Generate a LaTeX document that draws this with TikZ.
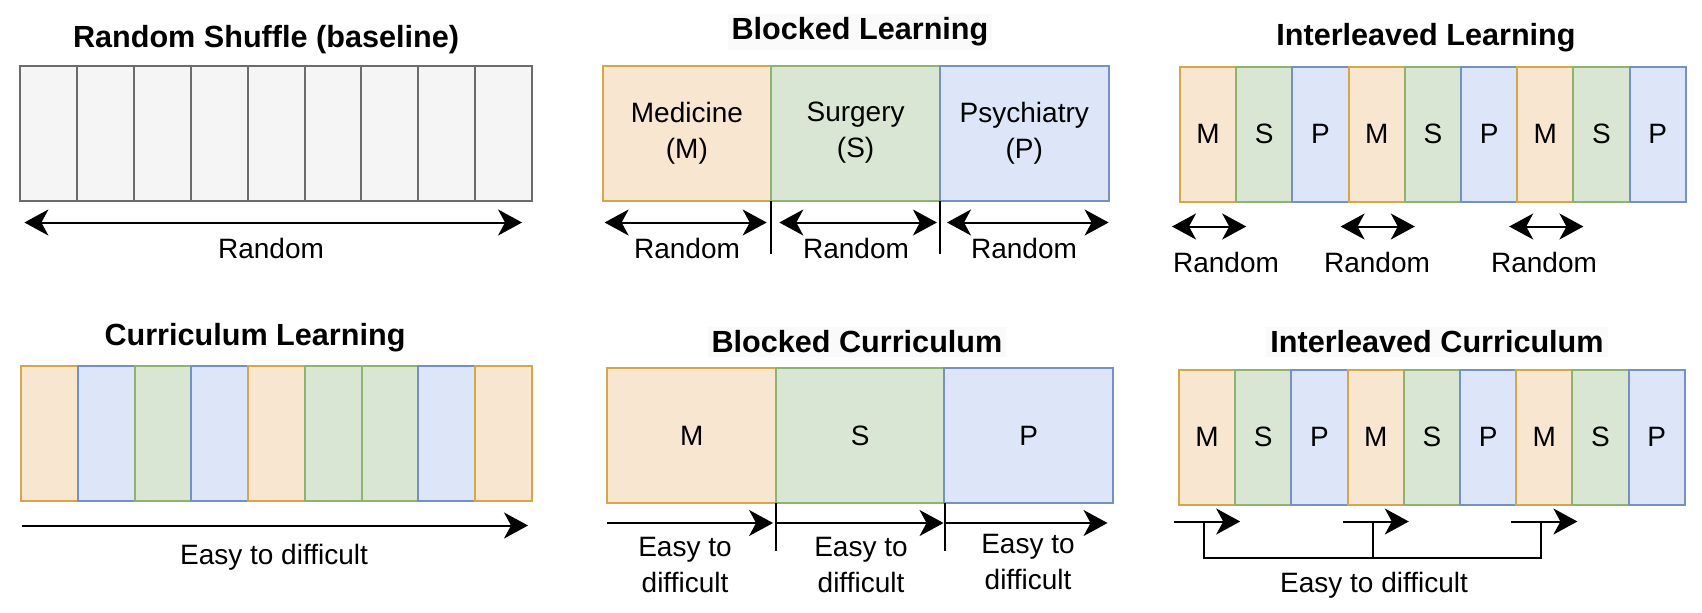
\documentclass[tikz,border=0pt]{standalone}
\usepackage{fontspec}
\setmainfont{Liberation Sans}
\usetikzlibrary{arrows.meta, calc}

\definecolor{Mfill}{HTML}{F9E6D1}
\definecolor{Mline}{HTML}{D6A64B}
\definecolor{Sfill}{HTML}{DAE6D4}
\definecolor{Sline}{HTML}{8DB36F}
\definecolor{Pfill}{HTML}{DCE6F8}
\definecolor{Pline}{HTML}{7491C2}
\definecolor{Gfill}{HTML}{F5F5F5}
\definecolor{Gline}{HTML}{6B6B6B}

\begin{document}
\begin{tikzpicture}[
  x=0.5pt, y=-0.5pt,
  cell/.style={draw, line width=1pt, inner sep=0pt, outer sep=0pt,
    minimum width=#1, minimum height=67.5pt, font=\fontsize{14}{17}\selectfont},
  block/.style={cell=84.3pt, align=center, font=\fontsize{14}{18}\selectfont},
  heading/.style={font=\bfseries\fontsize{15.3}{18}\selectfont, inner sep=2pt},
  headingbg/.style={heading, fill=black!2},
  lbl/.style={font=\fontsize{14}{18}\selectfont, align=center, inner sep=0pt},
  tick/.style={line width=1pt},
  >={Stealth[length=12pt, width=13pt, inset=3.5pt]}
]
  \useasboundingbox (0,0) rectangle (1702,612);

  %% RANDOM SHUFFLE
  \node[heading] (t1) at (266,40) {Random Shuffle (baseline)};
  \foreach \i in {1,...,9}
    \node[cell=28.43pt, fill=Gfill, draw=Gline] (r\i) at ({20.4+56.85*(\i-0.5)},133) {};
  \draw[<->, tick] ($(r1.south west)+(4,22)$) -- ($(r9.south east)+(-10,22)$);
  \node[lbl] (l1) at (271,248) {Random};

  %% BLOCKED LEARNING
  \node[headingbg] (t2) at (860,32) {Blocked Learning};
  \node[block, fill=Mfill, draw=Mline] (bM) at (686.9,133) {Medicine\\(M)};
  \node[block, fill=Sfill, draw=Sline] (bS) at (855.6,133) {Surgery\\(S)};
  \node[block, fill=Pfill, draw=Pline] (bP) at (1024.3,133) {Psychiatry\\(P)};
  \draw[<->, tick] ($(bM.south west)+(2,22)$) -- ($(bM.south east)+(-4.5,22)$);
  \draw[<->, tick] ($(bS.south west)+(8,22)$) -- ($(bS.south east)+(-3,22)$);
  \draw[<->, tick] ($(bP.south west)+(7,22)$) -- ($(bP.south east)+(0,22)$);
  \draw[tick] (bM.south east) -- ++(0,53);
  \draw[tick] (bS.south east) -- ++(0,53);
  \node[lbl] (l2a) at (687,248) {Random};
  \node[lbl] (l2b) at (856,248) {Random};
  \node[lbl] (l2c) at (1024,248) {Random};

  %% INTERLEAVED LEARNING
  \node[heading] (t3) at (1426,38) {Interleaved Learning};
  \foreach \subj [count=\i] in {M,S,P,M,S,P,M,S,P}
    \node[cell=28.1pt, fill=\subj fill, draw=\subj line] (i\i) at ({1180+56.2*(\i-0.5)},134) {\subj};
  \foreach \k in {1,4,7}
    \draw[<->, tick] ($(i\k.south west)+(-8,25)$) -- ($(i\k.south east)+(10,25)$);
  \node[lbl] (l3a) at (1226,262) {Random};
  \node[lbl] (l3b) at (1377,262) {Random};
  \node[lbl] (l3c) at (1544,262) {Random};

  %% CURRICULUM LEARNING
  \node[heading] (t4) at (255,338) {Curriculum Learning};
  \foreach \subj [count=\i] in {M,P,S,P,M,S,S,P,M}
    \node[cell=28.39pt, fill=\subj fill, draw=\subj line] (c\i) at ({21+56.78*(\i-0.5)},433) {};
  \draw[->, tick] ($(c1.south west)+(1,25)$) -- ($(c9.south east)+(-4,25)$);
  \node[lbl] (l4) at (274,557) {Easy to difficult};

  %% BLOCKED CURRICULUM
  \node[headingbg] (t5) at (857,342) {Blocked Curriculum};
  \node[block, fill=Mfill, draw=Mline] (bcM) at (691.75,435.5) {M};
  \node[block, fill=Sfill, draw=Sline] (bcS) at (860.25,435.5) {S};
  \node[block, fill=Pfill, draw=Pline] (bcP) at (1028.75,435.5) {P};
  \draw[->, tick] ($(bcM.south west)+(0,20)$) -- ($(bcM.south east)+(-3,20)$);
  \draw[->, tick] ($(bcS.south west)+(0,20)$) -- ($(bcS.south east)+(-1,20)$);
  \draw[->, tick] ($(bcP.south west)+(0,20)$) -- ($(bcP.south east)+(-5.5,20)$);
  \draw[tick] (bcM.south east) -- ++(0,48);
  \draw[tick] (bcS.south east) -- ++(0,48);
  \node[lbl] (l5a) at (685,565) {Easy to\\difficult};
  \node[lbl] (l5b) at (861,565) {Easy to\\difficult};
  \node[lbl] (l5c) at (1028,562) {Easy to\\difficult};

  %% INTERLEAVED CURRICULUM
  \node[headingbg] (t6) at (1437,342) {Interleaved Curriculum};
  \foreach \subj [count=\i] in {M,S,P,M,S,P,M,S,P}
    \node[cell=28.1pt, fill=\subj fill, draw=\subj line] (ic\i) at ({1179+56.2*(\i-0.5)},437) {\subj};
  \foreach \k in {1,4,7} {
    \coordinate (e\k) at ($(ic\k.south)+(-3,17)$);
    \draw[->, tick] ($(ic\k.south west)+(-5,17)$) -- ($(ic\k.south east)+(5,17)$);
  }
  %% bracket joining the three runs
  \draw[tick] (e1) -- ++(0,36) -| (e7);
  \draw[tick] (e4) -- ++(0,36);
  \node[lbl] (l6) at (1374,585) {Easy to difficult};

\end{tikzpicture}
\end{document}
